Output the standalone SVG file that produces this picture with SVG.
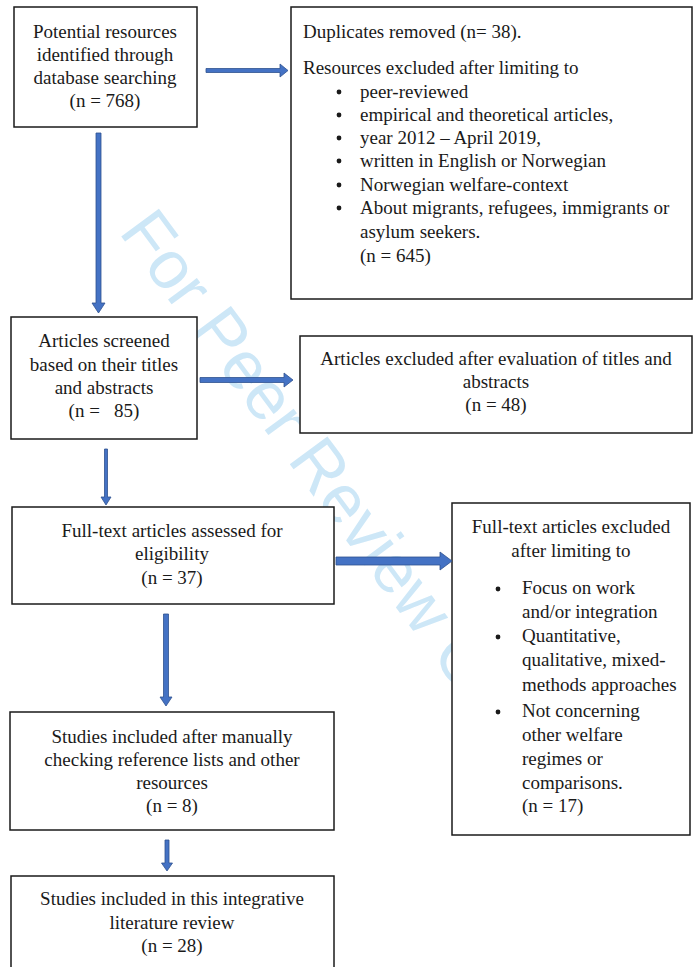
<svg xmlns="http://www.w3.org/2000/svg" width="694" height="967" viewBox="0 0 694 967">
<style>
.box{fill:#fff;stroke:#1a1a1a;stroke-width:1.5}
text{font-family:"Liberation Serif","Times New Roman",serif;font-size:19px;fill:#1a1a1a}
.c{text-anchor:middle}
.arr{fill:#4472c4;stroke:#2f528f;stroke-width:0.8}
.wm{font-family:"Liberation Sans",Arial,sans-serif;font-size:68px;fill:#cde7f7}
</style>
<rect width="694" height="967" fill="#fff"/>
<text class="wm" transform="translate(118,232) rotate(53.5)">For Peer Review Only</text>

<g id="n1">
<rect class="box" x="14" y="7" width="183" height="120"/>
<text class="c" x="105" y="38">Potential resources</text>
<text class="c" x="105" y="61">identified through</text>
<text class="c" x="105" y="84">database searching</text>
<text class="c" x="105" y="107">(n = 768)</text>
</g>

<g id="n2">
<rect class="box" x="291" y="7" width="401" height="292"/>
<text x="303" y="38">Duplicates removed (n= 38).</text>
<text x="303" y="74">Resources excluded after limiting to</text>
<g>
<circle cx="339" cy="92" r="2.4" fill="#1a1a1a"/>
<circle cx="339" cy="115" r="2.4" fill="#1a1a1a"/>
<circle cx="339" cy="138" r="2.4" fill="#1a1a1a"/>
<circle cx="339" cy="161" r="2.4" fill="#1a1a1a"/>
<circle cx="339" cy="185" r="2.4" fill="#1a1a1a"/>
<circle cx="339" cy="208" r="2.4" fill="#1a1a1a"/>
</g>
<text x="360" y="98">peer-reviewed</text>
<text x="360" y="121">empirical and theoretical articles,</text>
<text x="360" y="144">year 2012 – April 2019,</text>
<text x="360" y="167">written in English or Norwegian</text>
<text x="360" y="191">Norwegian welfare-context</text>
<text x="360" y="214">About migrants, refugees, immigrants or</text>
<text x="360" y="238">asylum seekers.</text>
<text x="360" y="262">(n = 645)</text>
</g>

<g id="n3">
<rect class="box" x="11" y="317" width="186" height="122"/>
<text class="c" x="104" y="347">Articles screened</text>
<text class="c" x="104" y="371">based on their titles</text>
<text class="c" x="104" y="394">and abstracts</text>
<text class="c" x="104" y="417" xml:space="preserve">(n =   85)</text>
</g>

<g id="n4">
<rect class="box" x="300" y="336" width="392" height="97"/>
<text class="c" x="496" y="365">Articles excluded after evaluation of titles and</text>
<text class="c" x="496" y="388">abstracts</text>
<text class="c" x="496" y="411">(n = 48)</text>
</g>

<g id="n5">
<rect class="box" x="12" y="507" width="322" height="97"/>
<text class="c" x="172" y="537">Full-text articles assessed for</text>
<text class="c" x="172" y="560">eligibility</text>
<text class="c" x="172" y="584">(n = 37)</text>
</g>

<g id="n6">
<rect class="box" x="452" y="503" width="238" height="332"/>
<text class="c" x="571" y="533">Full-text articles excluded</text>
<text class="c" x="571" y="557">after limiting to</text>
<circle cx="498" cy="589" r="2.4" fill="#1a1a1a"/>
<circle cx="498" cy="637" r="2.4" fill="#1a1a1a"/>
<circle cx="498" cy="712" r="2.4" fill="#1a1a1a"/>
<text x="522" y="594">Focus on work</text>
<text x="522" y="618">and/or integration</text>
<text x="522" y="642">Quantitative,</text>
<text x="522" y="666">qualitative, mixed-</text>
<text x="522" y="691">methods approaches</text>
<text x="522" y="717">Not concerning</text>
<text x="522" y="741">other welfare</text>
<text x="522" y="765">regimes or</text>
<text x="522" y="789">comparisons.</text>
<text x="522" y="812">(n = 17)</text>
</g>

<g id="n7">
<rect class="box" x="10" y="712" width="324" height="118"/>
<text class="c" x="172" y="743">Studies included after manually</text>
<text class="c" x="172" y="766">checking reference lists and other</text>
<text class="c" x="172" y="789">resources</text>
<text class="c" x="172" y="812">(n = 8)</text>
</g>

<g id="n8">
<rect class="box" x="11" y="876" width="323" height="100"/>
<text class="c" x="172" y="905">Studies included in this integrative</text>
<text class="c" x="172" y="929">literature review</text>
<text class="c" x="172" y="952">(n = 28)</text>
</g>

<g id="connectors">
<path class="arr" d="M206,68.5 H280 V64 L288,70.5 L280,77 V72.5 H206 Z"/>
<path class="arr" d="M96,133 V303 H92 L98.5,313 L105,303 H101 V133 Z"/>
<path class="arr" d="M200,377.5 H284 V373 L293,380 L284,387 V382.5 H200 Z"/>
<path class="arr" d="M104.5,449 V497 H101 L106,505 L111,497 H107.5 V449 Z"/>
<path class="arr" d="M336,557 H440 V552 L452,561 L440,570 V565 H336 Z"/>
<path class="arr" d="M163.5,614 V697 H160 L166,706 L172,697 H168.5 V614 Z"/>
<path class="arr" d="M165,840 V863 H161.5 L167,871 L172.5,863 H169 V840 Z"/>
</g>
</svg>
